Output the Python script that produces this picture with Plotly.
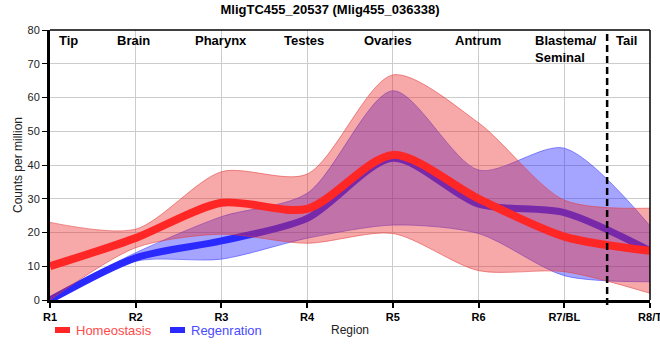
import plotly.graph_objects as go

regions = ["R1", "R2", "R3", "R4", "R5", "R6", "R7/BL", "R8/T"]
region_pos = [1, 2, 3, 4, 5, 6, 7, 8]

homeo_mean = [10, 18.4, 28.8, 27, 43, 30, 18.8, 14.6]
homeo_upper = [23, 21, 38, 37.3, 66.7, 52.5, 29.6, 27.2]
homeo_lower = [0, 15.5, 19.5, 16.8, 19.7, 8.7, 8.4, 2]

regen_mean = [0, 12.5, 17.5, 24.2, 42, 28.4, 25.9, 14.6]
regen_upper = [1, 14, 24.7, 31.6, 62, 38.5, 45, 22]
regen_lower = [0, 11.5, 12.1, 18.3, 22.2, 19.7, 7.2, 5.4]

tissue_labels = ["Tip", "Brain", "Pharynx", "Testes", "Ovaries", "Antrum", "Blastema/<br>Seminal", "Tail"]
tissue_pos = [1.22, 1.97, 3.0, 3.96, 4.94, 5.99, 6.63, 7.73]

FONT = "Liberation Sans, Arial, sans-serif"
RED_LINE = "#ff2626"
BLUE_LINE = "#2a2aff"
RED_FILL = "rgba(235,40,40,0.4)"
BLUE_FILL = "rgba(30,30,255,0.4)"
RED_EDGE = "rgba(225,60,60,0.55)"
BLUE_EDGE = "rgba(60,60,255,0.55)"
SM = 0.8

fig = go.Figure()

# Regeneration band + line
fig.add_trace(go.Scatter(x=region_pos, y=regen_lower, mode="lines",
                         line=dict(color=BLUE_EDGE, width=1, shape="spline", smoothing=SM),
                         showlegend=False, hoverinfo="skip"))
fig.add_trace(go.Scatter(x=region_pos, y=regen_upper, mode="lines", fill="tonexty",
                         fillcolor=BLUE_FILL,
                         line=dict(color=BLUE_EDGE, width=1, shape="spline", smoothing=SM),
                         showlegend=False, hoverinfo="skip"))
fig.add_trace(go.Scatter(x=region_pos, y=regen_mean, mode="lines", name="Regenration",
                         line=dict(color=BLUE_LINE, width=7, shape="spline", smoothing=SM),
                         showlegend=False))

# Homeostasis band + line
fig.add_trace(go.Scatter(x=region_pos, y=homeo_lower, mode="lines",
                         line=dict(color=RED_EDGE, width=1, shape="spline", smoothing=SM),
                         showlegend=False, hoverinfo="skip"))
fig.add_trace(go.Scatter(x=region_pos, y=homeo_upper, mode="lines", fill="tonexty",
                         fillcolor=RED_FILL,
                         line=dict(color=RED_EDGE, width=1, shape="spline", smoothing=SM),
                         showlegend=False, hoverinfo="skip"))
fig.add_trace(go.Scatter(x=region_pos, y=homeo_mean, mode="lines", name="Homeostasis",
                         line=dict(color=RED_LINE, width=8, shape="spline", smoothing=SM),
                         showlegend=False))

annotations = []
for lab, xp in zip(tissue_labels, tissue_pos):
    annotations.append(dict(x=xp, y=80, xref="x", yref="y", text=lab, showarrow=False,
                            xanchor="left" if "Blastema" in lab else "center",
                            yanchor="top", yshift=-1, align="left",
                            font=dict(family=FONT, size=13, color="black", weight="bold")))

# custom legend
annotations.append(dict(x=(74 - 50) / 600, y=-30 / 270, xref="paper", yref="paper",
                        text="Homeostasis", showarrow=False, xanchor="left", yanchor="middle",
                        font=dict(family=FONT, size=13, color="#ff4a4a")))
annotations.append(dict(x=(189 - 50) / 600, y=-30 / 270, xref="paper", yref="paper",
                        text="Regenration", showarrow=False, xanchor="left", yanchor="middle",
                        font=dict(family=FONT, size=13, color="#4a4aff")))
annotations.append(dict(x=0.5, y=-30 / 270, xref="paper", yref="paper",
                        text="Region", showarrow=False, xanchor="center", yanchor="middle",
                        font=dict(family=FONT, size=12, color="#222")))

shapes = [
    dict(type="rect", xref="paper", yref="paper", x0=(55 - 50) / 600, x1=(70 - 50) / 600,
         y0=-27 / 270, y1=-33 / 270, fillcolor=RED_LINE, line=dict(width=0)),
    dict(type="rect", xref="paper", yref="paper", x0=(170 - 50) / 600, x1=(185 - 50) / 600,
         y0=-27 / 270, y1=-33 / 270, fillcolor=BLUE_LINE, line=dict(width=0)),
    dict(type="line", xref="x", yref="paper", x0=7.5, x1=7.5, y0=-5 / 270, y1=1,
         line=dict(color="black", width=2.5, dash="7px,4px")),
    dict(type="line", xref="paper", yref="paper", x0=0, x1=1, y0=1, y1=1,
         line=dict(color="black", width=1.5)),
    dict(type="line", xref="paper", yref="paper", x0=1, x1=1, y0=0, y1=1,
         line=dict(color="black", width=1.5)),
]

fig.update_layout(
    width=660, height=360,
    margin=dict(l=50, r=10, t=30, b=60, autoexpand=False),
    paper_bgcolor="white", plot_bgcolor="white",
    title=dict(text="MligTC455_20537 (Mlig455_036338)", x=0.5, xanchor="center",
               y=1 - 9 / 360, yanchor="middle",
               font=dict(family=FONT, size=13, color="black", weight="bold")),
    xaxis=dict(range=[1, 8], tickvals=region_pos, ticktext=regions,
               automargin=False,
               showgrid=True, gridcolor="#cccccc", gridwidth=1,
               showline=True, linecolor="black", linewidth=3,
               ticks="outside", ticklen=5, tickwidth=1.5, tickcolor="black",
               ticklabeloverflow="allow",
               tickfont=dict(family=FONT, size=11, color="black", weight="bold"),
               zeroline=False),
    yaxis=dict(range=[0, 80], tickvals=[0, 10, 20, 30, 40, 50, 60, 70, 80],
               automargin=False,
               showgrid=True, gridcolor="#cccccc", gridwidth=1,
               showline=True, linecolor="black", linewidth=3,
               ticks="outside", ticklen=5, tickwidth=1, tickcolor="black",
               tickfont=dict(family=FONT, size=11, color="#222"),
               title=dict(text="Counts per million", standoff=3,
                          font=dict(family=FONT, size=12, color="#222")),
               zeroline=False),
    annotations=annotations,
    shapes=shapes,
    showlegend=False,
)

fig.write_html("out.html", config={"displayModeBar": False},
               post_script="document.body.style.margin='0';")
